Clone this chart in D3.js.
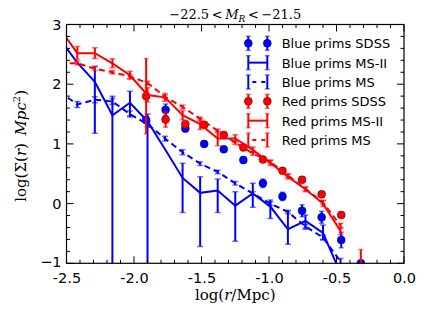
<!DOCTYPE html>
<html><head><meta charset="utf-8">
<script src="https://cdn.jsdelivr.net/npm/d3@7"></script>
<style>body{margin:0;background:#fff}svg{display:block}</style>
</head><body>
<svg id="chart" width="425" height="319"></svg>
<script>
// ---- data ----
const msBins = [-2.55,-2.42,-2.29,-2.16,-2.03,-1.90,-1.77,-1.64,-1.51,-1.38,-1.25,-1.12,-0.99,-0.86,-0.73,-0.60,-0.47];
const blueMS2   = [2.755,2.36,2.04,1.48,1.69,1.38,0.91,0.43,0.18,0.22,-0.035,0.17,-0.05,-0.43,-0.29,-0.49,-1.17];
const blueMS2Hi = [2.755,2.36,2.30,1.80,1.88,1.50,0.91,0.675,0.45,0.41,0.20,0.34,0.06,-0.135,-0.19,-0.36,-1.05];
const blueMS2Lo = [2.755,2.36,1.18,-3.0,1.47,-3.0,0.91,-0.15,-0.72,-0.15,-0.63,-0.06,-0.25,-0.68,-0.43,-0.60,-1.30];
const blueMS    = [1.87,1.66,1.74,1.71,1.50,1.33,1.09,0.86,0.67,0.53,0.34,0.17,0.0,-0.14,-0.38,-0.57,-0.97];
const blueMSErr = [0.05,0.05,0.05,0.05,0.05,0.05,0.04,0.04,0.03,0.03,0.03,0.03,0.03,0.03,0.03,0.04,0.05];
const redMS2    = [2.93,2.52,2.52,2.35,2.15,1.82,1.78,1.48,1.33,1.09,1.09,0.90,0.68,0.45,0.24,0.0,-0.46];
const redMS2Err = [0.1,0.11,0.09,0.075,0.065,0.12,0.065,0.08,0.09,0.12,0.065,0.05,0.04,0.04,0.04,0.05,0.06];
const redMS     = [2.35,2.35,2.26,2.20,2.13,2.02,1.79,1.62,1.42,1.22,1.02,0.84,0.70,0.47,0.25,0.02,-0.37];
const redMSErr  = [0.03,0.03,0.03,0.03,0.03,0.03,0.03,0.03,0.03,0.03,0.03,0.03,0.03,0.03,0.03,0.03,0.04];
const sdssX       = [-1.91,-1.766,-1.62,-1.48,-1.335,-1.19,-1.045,-0.90,-0.755,-0.61,-0.465,-0.32];
const blueSDSS    = [1.40,1.57,1.26,1.00,0.91,0.73,0.34,0.12,-0.12,-0.23,-0.61,-1.0];
const blueSDSSErr = [0.05,0.1,0.06,0.04,0.04,0.05,0.07,0.07,0.1,0.1,0.13,0.0];
const redSDSS     = [1.80,1.41,1.33,1.32,1.15,0.94,0.74,0.55,0.40,0.155,-0.19,-1.08];
const redSDSSErr  = [0.63,0.13,0.05,0.05,0.05,0.04,0.04,0.04,0.04,0.04,0.04,0.31];
const xTicks = [-2.5,-2.0,-1.5,-1.0,-0.5,0.0];
const xTickLabels = ["-2.5","-2.0","-1.5","-1.0","-0.5","0.0"];
const yTicks = [3,2,1,0,-1];
const yTickLabels = ["3","2","1","0","\u22121"];
const legendLabels = ["Blue prims SDSS","Blue prims MS-II","Blue prims MS","Red prims SDSS","Red prims MS-II","Red prims MS"];

// ---- layout ----
const L = 66.5, R = 404, T = 24.5, B = 263.3;
const BLUE = "#0000ff", RED = "#ff0000";
const svg = d3.select("#chart");
const x = d3.scaleLinear().domain([-2.5, 0]).range([L, R]);
const y = d3.scaleLinear().domain([-1, 3]).range([B, T]);

svg.append("defs").append("clipPath").attr("id","clip")
  .append("rect").attr("x",L).attr("y",T).attr("width",R-L).attr("height",B-T);
const plot = svg.append("g").attr("clip-path","url(#clip)");

function errBars(g, xs, ys, lo, hi, color, cap) {
  xs.forEach((xv,i) => {
    if (hi[i] - lo[i] <= 0) return;
    g.append("line").attr("x1",x(xv)).attr("x2",x(xv)).attr("y1",y(lo[i])).attr("y2",y(hi[i]))
      .attr("stroke",color).attr("stroke-width",2);
    [lo[i],hi[i]].forEach(v => g.append("line").attr("x1",x(xv)-cap).attr("x2",x(xv)+cap)
      .attr("y1",y(v)).attr("y2",y(v)).attr("stroke",color).attr("stroke-opacity",0.55).attr("stroke-width",1.5));
  });
}
function drawLine(g, xs, ys, color, dash) {
  const line = d3.line().x(d=>x(d[0])).y(d=>y(d[1]));
  const p = g.append("path").datum(xs.map((v,i)=>[v,ys[i]])).attr("d",line)
    .attr("fill","none").attr("stroke",color).attr("stroke-width",2);
  if (dash) p.attr("stroke-dasharray",dash);
}
function dots(g, xs, ys, color) {
  xs.forEach((xv,i)=> g.append("circle").attr("cx",x(xv)).attr("cy",y(ys[i])).attr("r",4)
    .attr("fill",color).attr("stroke","#000").attr("stroke-width",0.4));
}

// Blue SDSS
errBars(plot, sdssX, blueSDSS, blueSDSS.map((v,i)=>v-blueSDSSErr[i]), blueSDSS.map((v,i)=>v+blueSDSSErr[i]), BLUE, 2.5);
dots(plot, sdssX, blueSDSS, BLUE);
// Blue MS-II
errBars(plot, msBins, blueMS2, blueMS2Lo, blueMS2Hi, BLUE, 3);
drawLine(plot, msBins, blueMS2, BLUE, null);
// Blue MS
errBars(plot, msBins, blueMS, blueMS.map((v,i)=>v-blueMSErr[i]), blueMS.map((v,i)=>v+blueMSErr[i]), BLUE, 3);
drawLine(plot, msBins, blueMS, BLUE, "6,4");
// Red SDSS
errBars(plot, sdssX, redSDSS, redSDSS.map((v,i)=>v-redSDSSErr[i]), redSDSS.map((v,i)=>v+redSDSSErr[i]), RED, 2.5);
dots(plot, sdssX, redSDSS, RED);
// Red MS-II
errBars(plot, msBins, redMS2, redMS2.map((v,i)=>v-redMS2Err[i]), redMS2.map((v,i)=>v+redMS2Err[i]), RED, 3);
drawLine(plot, msBins, redMS2, RED, null);
// Red MS
errBars(plot, msBins, redMS, redMS.map((v,i)=>v-redMSErr[i]), redMS.map((v,i)=>v+redMSErr[i]), RED, 3);
drawLine(plot, msBins, redMS, RED, "6,4");

// ---- axes / frame ----
const ax = svg.append("g");
ax.append("rect").attr("x",L).attr("y",T).attr("width",R-L).attr("height",B-T)
  .attr("fill","none").attr("stroke","#000").attr("stroke-width",1.2);
const xMinor = d3.range(-2.5, 0.001, 0.1);
const yMinor = d3.range(-1, 3.001, 0.2);
xMinor.forEach(v => {
  const maj = xTicks.some(t=>Math.abs(t-v)<1e-6), len = maj?7:3.5;
  ax.append("line").attr("x1",x(v)).attr("x2",x(v)).attr("y1",B).attr("y2",B-len).attr("stroke","#000");
  ax.append("line").attr("x1",x(v)).attr("x2",x(v)).attr("y1",T).attr("y2",T+len).attr("stroke","#000");
});
yMinor.forEach(v => {
  const maj = yTicks.some(t=>Math.abs(t-v)<1e-6), len = maj?7:3.5;
  ax.append("line").attr("x1",L).attr("x2",L+len).attr("y1",y(v)).attr("y2",y(v)).attr("stroke","#000");
  ax.append("line").attr("x1",R).attr("x2",R-len).attr("y1",y(v)).attr("y2",y(v)).attr("stroke","#000");
});
const xAxis = d3.axisBottom(x).tickValues(xTicks).tickFormat((d,i)=>xTickLabels[i]).tickSize(0).tickPadding(9);
const gx = svg.append("g").attr("transform",`translate(0,${B})`).call(xAxis);
gx.select(".domain").remove();
gx.selectAll("text").attr("font-family","DejaVu Sans").attr("font-size",14.5).attr("fill","#000");
const yAxis = d3.axisLeft(y).tickValues(yTicks).tickFormat((d,i)=>yTickLabels[i]).tickSize(0).tickPadding(5);
const gy = svg.append("g").attr("transform",`translate(${L},0)`).call(yAxis);
gy.select(".domain").remove();
gy.selectAll("text").attr("font-family","DejaVu Sans").attr("font-size",14.5).attr("fill","#000");
gy.selectAll(".tick").filter(d=>d===-1).select("text").attr("dy","0.2em");

// titles
const title = svg.append("text").attr("x",(L+R)/2).attr("y",19).attr("text-anchor","middle")
  .attr("font-family","DejaVu Serif").attr("font-size",13);
title.append("tspan").text("\u221222.5\u2009<\u2009");
title.append("tspan").attr("font-style","italic").text("M");
title.append("tspan").attr("font-style","italic").attr("font-size",9).attr("dy",3).text("R");
title.append("tspan").attr("dy",-3).text("\u2009<\u2009\u221221.5");

const xl = svg.append("text").attr("x",(L+R)/2).attr("y",300).attr("text-anchor","middle")
  .attr("font-family","DejaVu Serif").attr("font-size",15);
xl.append("tspan").text("log(");
xl.append("tspan").attr("font-style","italic").text("r");
xl.append("tspan").text("/Mpc)");

const yl = svg.append("text").attr("transform",`translate(26,${(T+B)/2+2}) rotate(-90)`).attr("text-anchor","middle")
  .attr("font-family","DejaVu Serif").attr("font-size",15);
yl.append("tspan").text("log(\u03A3(");
yl.append("tspan").attr("font-style","italic").text("r");
yl.append("tspan").text(")\u2002");
yl.append("tspan").attr("font-style","italic").text("Mpc");
yl.append("tspan").attr("font-size",10).attr("dy",-6).text("2");
yl.append("tspan").attr("dy",6).text(")");

// ---- legend ----
const leg = svg.append("g");
const rowY = d3.scaleLinear().domain([0,5]).range([43.3,140]);
const lx1 = 248.3, lx2 = 267.3;
const styles = [
  {c:BLUE,t:"dots"},{c:BLUE,t:"solid"},{c:BLUE,t:"dash"},
  {c:RED,t:"dots"},{c:RED,t:"solid"},{c:RED,t:"dash"}];
legendLabels.forEach((lab,i)=>{
  const cy = rowY(i), s = styles[i];
  [lx1,lx2].forEach(px=>{
    leg.append("line").attr("x1",px).attr("x2",px).attr("y1",cy-7).attr("y2",cy+7).attr("stroke",s.c).attr("stroke-width",2);
    [cy-7,cy+7].forEach(vy=>leg.append("line").attr("x1",px-2.5).attr("x2",px+2.5).attr("y1",vy).attr("y2",vy)
      .attr("stroke",s.c).attr("stroke-opacity",0.55).attr("stroke-width",1.5));
  });
  if (s.t==="dots") {
    [lx1,lx2].forEach(px=>leg.append("circle").attr("cx",px).attr("cy",cy).attr("r",4).attr("fill",s.c)
      .attr("stroke","#000").attr("stroke-width",0.4));
  } else {
    const l = leg.append("line").attr("x1",lx1).attr("x2",lx2).attr("y1",cy).attr("y2",cy)
      .attr("stroke",s.c).attr("stroke-width",2);
    if (s.t==="dash") l.attr("stroke-dasharray","4,5").attr("stroke-dashoffset",-4);
  }
  leg.append("text").attr("x",281.7).attr("y",cy+5).attr("font-family","DejaVu Sans").attr("font-size",13)
    .attr("fill","#000").text(lab);
});
</script>
</body></html>
